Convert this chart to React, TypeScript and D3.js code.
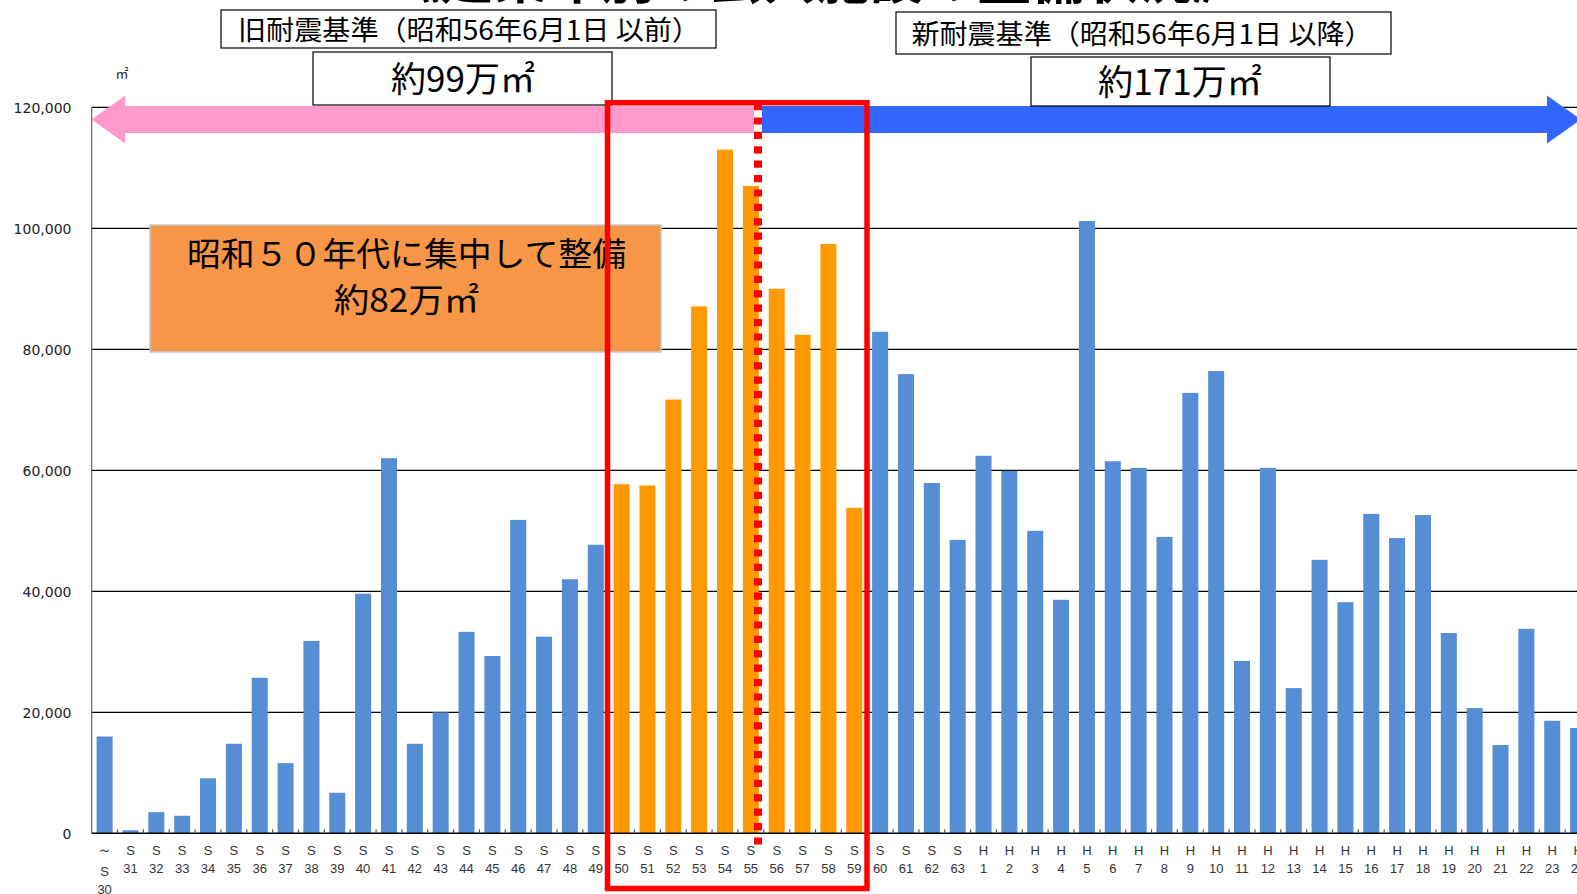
import React from "react";
import * as d3 from "d3";

const categories = [
  "～S30", "S31", "S32", "S33", "S34", "S35", "S36", "S37", "S38", "S39",
  "S40", "S41", "S42", "S43", "S44", "S45", "S46", "S47", "S48", "S49",
  "S50", "S51", "S52", "S53", "S54", "S55", "S56", "S57", "S58", "S59",
  "S60", "S61", "S62", "S63",
  "H1", "H2", "H3", "H4", "H5", "H6", "H7", "H8", "H9", "H10",
  "H11", "H12", "H13", "H14", "H15", "H16", "H17", "H18", "H19", "H20",
  "H21", "H22", "H23", "H24",
];

const areaValues = [
  16000, 500, 3500, 2900, 9100, 14800, 25700, 11600, 31800, 6700,
  39600, 62000, 14800, 20000, 33300, 29300, 51800, 32500, 42000, 47700,
  57700, 57500, 71700, 87100, 113000, 107000, 90000, 82400, 97400, 53800,
  82900, 75900, 57900, 48500,
  62400, 59900, 50000, 38600, 101200, 61500, 60400, 49000, 72800, 76400,
  28500, 60400, 24000, 45200, 38200, 52800, 48800, 52600, 33100, 20700,
  14600, 33800, 18600, 17400,
];

const highlightCategories = ["S50", "S51", "S52", "S53", "S54", "S55", "S56", "S57", "S58", "S59"];

const yTicks = [0, 20000, 40000, 60000, 80000, 100000, 120000];

const titleText = "《建築年別の公共施設の整備状況》";
const oldStandardText = "旧耐震基準（昭和56年6月1日 以前）";
const oldAreaText = "約99万㎡";
const newStandardText = "新耐震基準（昭和56年6月1日 以降）";
const newAreaText = "約171万㎡";
const noteLine1 = "昭和５０年代に集中して整備";
const noteLine2 = "約82万㎡";
const unitText = "㎡";

const W = 1577;
const H = 894;
const X0 = 91.7;
const STEP = 25.85;
const Y0 = 833.3;
const Y120 = 107.3;

const BLUE = "#558ED5";
const ORANGE = "#FF9900";
const JP = "'Noto Sans CJK JP', 'Noto Sans', sans-serif";

export default function App() {
  const x = d3
    .scaleBand<string>()
    .domain(categories)
    .range([X0, X0 + STEP * categories.length])
    .paddingInner(0.38)
    .paddingOuter(0.19);
  const y = d3.scaleLinear().domain([0, 120000]).range([Y0, Y120]);
  const fmt = d3.format(",");

  const dashX = 758;
  const bandTop = 106;
  const bandBot = 133;
  const headTop = 95.5;
  const headBot = 143.5;
  const midY = (bandTop + bandBot) / 2;

  const pinkPath = `M${X0 - 0.2},${midY} L${X0 + 33.5},${headTop} L${X0 + 33.5},${bandTop} L754,${bandTop} L754,${bandBot} L${X0 + 33.5},${bandBot} L${X0 + 33.5},${headBot} Z`;
  const blueTip = 1581;
  const blueBack = 1547;
  const bluePath = `M762,${bandTop} L${blueBack},${bandTop} L${blueBack},${headTop} L${blueTip},${midY} L${blueBack},${headBot} L${blueBack},${bandBot} L762,${bandBot} Z`;

  return (
    <svg
      width={W}
      height={H}
      style={{ position: "absolute", left: 0, top: 0, background: "#fff" }}
    >
      <rect x={0} y={0} width={W} height={H} fill="#fff" />
      {/* Title (cut off at top) */}
      <text
        x={816}
        y={-2}
        textAnchor="middle"
        fontFamily={JP}
        fontWeight="bold"
        fontSize={56}
        textLength={860}
        lengthAdjust="spacingAndGlyphs"
        fill="#000"
      >
        {titleText}
      </text>

      {/* gridlines */}
      {yTicks.filter((t) => t > 0).map((t) => (
        <line key={t} x1={X0} x2={W} y1={y(t)} y2={y(t)} stroke="#000" strokeWidth={1.2} />
      ))}

      {/* y tick labels */}
      {yTicks.map((t) => (
        <text
          key={t}
          x={71.5}
          y={y(t) + 1}
          dy="0.36em"
          textAnchor="end"
          fontFamily="'DejaVu Sans', sans-serif"
          fontSize={14}
          fill="#222"
        >
          {fmt(t)}
        </text>
      ))}
      <text x={122} y={78} textAnchor="middle" fontFamily={JP} fontSize={13} fill="#222">
        {unitText}
      </text>

      {/* bars */}
      {categories.map((c, i) => (
        <rect
          key={c}
          x={x(c)}
          y={y(areaValues[i])}
          width={x.bandwidth()}
          height={Y0 - y(areaValues[i])}
          fill={highlightCategories.includes(c) ? ORANGE : BLUE}
        />
      ))}

      {/* axes */}
      <line x1={X0} x2={X0} y1={Y120} y2={Y0} stroke="#666" strokeWidth={1.2} />
      <line x1={X0} x2={W} y1={Y0} y2={Y0} stroke="#000" strokeWidth={1.5} />
      {categories.map((c, i) => (
        <line
          key={"t" + c}
          x1={X0 + STEP * (i + 1)}
          x2={X0 + STEP * (i + 1)}
          y1={Y0}
          y2={Y0 - 4}
          stroke="#555"
          strokeWidth={1.2}
        />
      ))}

      {/* x labels */}
      {categories.map((c) => {
        const cx = (x(c) as number) + x.bandwidth() / 2;
        const first = c.startsWith("～");
        const lines = first ? ["～", c.slice(1, 2), c.slice(2)] : [c.slice(0, 1), c.slice(1)];
        const ys = first ? [850, 871, 889] : [850, 868];
        return (
          <g key={"l" + c}>
            {lines.map((s, k) => (
              <text
                key={k}
                x={cx}
                y={ys[k]}
                dy="0.35em"
                textAnchor="middle"
                fontFamily="'Liberation Sans', sans-serif"
                fontSize={k === 0 && first ? 15 : 13}
                fill="#333"
              >
                {s}
              </text>
            ))}
          </g>
        );
      })}

      {/* orange annotation box */}
      <rect x={150} y={225} width={511} height={127} fill="#F79646" stroke="#C8C8C8" strokeWidth={1.5} />
      <text
        x={406.5}
        y={254}
        dy="0.36em"
        textAnchor="middle"
        fontFamily={JP}
        fontSize={33}
        textLength={439}
        lengthAdjust="spacingAndGlyphs"
        fill="#000"
      >
        {noteLine1}
      </text>
      <text
        x={406.5}
        y={300}
        dy="0.36em"
        textAnchor="middle"
        fontFamily={JP}
        fontSize={33}
        textLength={145}
        lengthAdjust="spacingAndGlyphs"
        fill="#000"
      >
        {noteLine2}
      </text>

      {/* arrows */}
      <path d={pinkPath} fill="#FF99CC" />
      <path d={bluePath} fill="#3366FF" />

      {/* standard labels */}
      <rect x={221} y={10} width={495} height={38} fill="#fff" stroke="#000" strokeWidth={1.2} />
      <text
        x={469}
        y={30}
        dy="0.36em"
        textAnchor="middle"
        fontFamily={JP}
        fontSize={27}
        textLength={462}
        lengthAdjust="spacingAndGlyphs"
        fill="#000"
      >
        {oldStandardText}
      </text>
      <rect x={313} y={52} width={299} height={53} fill="#fff" stroke="#000" strokeWidth={1.2} />
      <text
        x={463}
        y={79}
        dy="0.36em"
        textAnchor="middle"
        fontFamily={JP}
        fontSize={35}
        textLength={144}
        lengthAdjust="spacingAndGlyphs"
        fill="#000"
      >
        {oldAreaText}
      </text>
      <rect x={896} y={12} width={495} height={42} fill="#fff" stroke="#000" strokeWidth={1.2} />
      <text
        x={1142}
        y={34}
        dy="0.36em"
        textAnchor="middle"
        fontFamily={JP}
        fontSize={27}
        textLength={461}
        lengthAdjust="spacingAndGlyphs"
        fill="#000"
      >
        {newStandardText}
      </text>
      <rect x={1031} y={57} width={299} height={49} fill="#fff" stroke="#000" strokeWidth={1.2} />
      <text
        x={1180}
        y={82}
        dy="0.36em"
        textAnchor="middle"
        fontFamily={JP}
        fontSize={35}
        textLength={164}
        lengthAdjust="spacingAndGlyphs"
        fill="#000"
      >
        {newAreaText}
      </text>

      {/* red highlight */}
      <rect x={607.5} y={102.7} width={259.5} height={785.8} fill="none" stroke="#FF0000" strokeWidth={5.5} />
      <line
        x1={dashX}
        x2={dashX}
        y1={103}
        y2={846}
        stroke="#FF0000"
        strokeWidth={8}
        strokeDasharray="7.2 7.2"
      />
    </svg>
  );
}
